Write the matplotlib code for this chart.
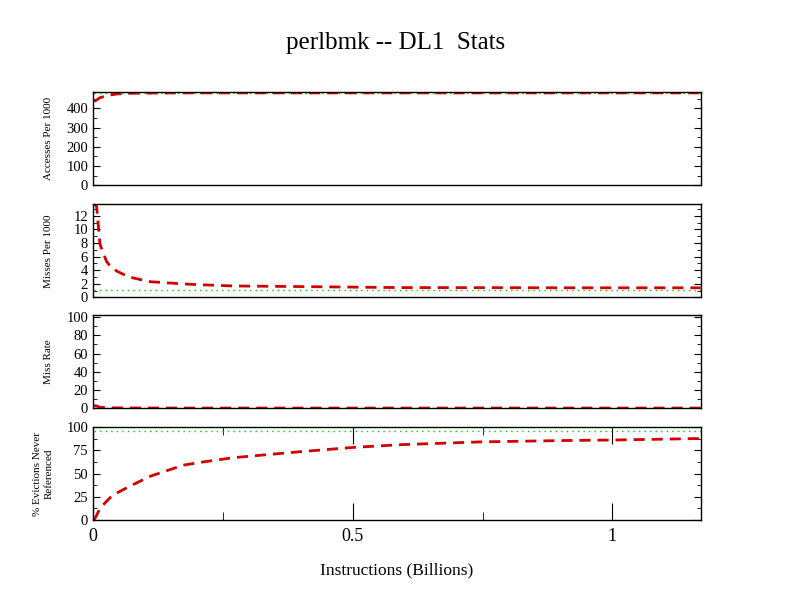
import matplotlib
matplotlib.use("Agg")
import matplotlib.pyplot as plt
from matplotlib.ticker import MultipleLocator

plt.rcParams['font.family'] = ['Liberation Serif', 'DejaVu Serif']

# instructions (billions)
x_ins = [0.002, 0.007, 0.0135, 0.026, 0.033, 0.046, 0.058, 0.077, 0.11, 0.174,
         0.207, 0.27, 0.4, 0.5, 0.593, 0.747, 0.914, 1.0, 1.158, 1.17]

acc_red = [435, 443, 455, 465, 469, 474, 476, 478, 479, 480,
           480, 480, 480, 480, 480, 480, 480, 480, 480, 480]
acc_green = 481

miss_red = [13.8, 13.4, 7.8, 5.3, 4.6, 3.85, 3.4, 2.86, 2.3, 1.97,
            1.85, 1.67, 1.58, 1.5, 1.43, 1.42, 1.4, 1.4, 1.4, 1.4]
miss_green = 1.05

rate_red = [3.0, 2.6, 1.2, 0.7, 0.6, 0.5, 0.45, 0.4, 0.35, 0.32,
            0.3, 0.3, 0.3, 0.3, 0.3, 0.3, 0.3, 0.3, 0.3, 0.3]
rate_green = 0.25

evict_red = [0.0, 5.0, 12.7, 20.0, 24.0, 29.0, 32.6, 38.0, 47.0, 59.0,
             62.0, 67.0, 73.5, 78.0, 81.0, 84.0, 85.5, 86.0, 87.5, 87.5]
evict_green = 95.5

panels = [
    ("Accesses Per 1000", acc_red, acc_green, 483, 100, 50),
    ("Misses Per 1000", miss_red, miss_green, 13.7, 2, 1),
    ("Miss Rate", rate_red, rate_green, 102, 20, 10),
    ("% Evictions Never\nReferenced", evict_red, evict_green, 100, 25, 12.5),
]

fig = plt.figure(figsize=(7.92, 6.12), dpi=100)
fig.suptitle("perlbmk -- DL1  Stats", y=0.947, fontsize=18)

bottoms = [0.6972, 0.5142, 0.3328, 0.1503]
red = "#d40000"
green = "#00cc00"

for i, (label, red_vals, green_val, ymax, major, minor) in enumerate(panels):
    ax = fig.add_axes([0.1174, bottoms[i], 0.7673, 0.152])
    ax.plot(x_ins, [green_val] * len(x_ins), color=green, lw=1, linestyle=(0, (1, 3)))
    ax.plot(x_ins, red_vals, color=red, lw=2, linestyle=(0, (4, 2.5)))
    ax.set_xlim(0, 1.17)
    ax.set_ylim(0, ymax)
    ax.yaxis.set_major_locator(MultipleLocator(major))
    ax.yaxis.set_minor_locator(MultipleLocator(minor))
    ax.tick_params(axis='y', which='both', direction='in', right=True, labelsize=10.5)
    ax.tick_params(axis='y', which='major', length=5)
    ax.tick_params(axis='y', which='minor', length=3)
    ax.set_ylabel(label, fontsize=8, linespacing=1.3)
    ax.yaxis.set_label_coords(-0.065, 0.5)
    if i < 3:
        ax.set_xticks([])
    else:
        ax.xaxis.set_major_locator(MultipleLocator(0.5))
        ax.xaxis.set_minor_locator(MultipleLocator(0.25))
        ax.xaxis.set_major_formatter(matplotlib.ticker.FuncFormatter(lambda v, p: f"{v:g}"))
        ax.tick_params(axis='x', which='both', direction='in', top=True, labelsize=13, pad=6)
        ax.tick_params(axis='x', which='major', length=12)
        ax.tick_params(axis='x', which='minor', length=6)
        ax.set_xlabel("Instructions (Billions)", fontsize=12.5, labelpad=12)
    for s in ax.spines.values():
        s.set_linewidth(1)

fig.savefig("out.png", dpi=100)
